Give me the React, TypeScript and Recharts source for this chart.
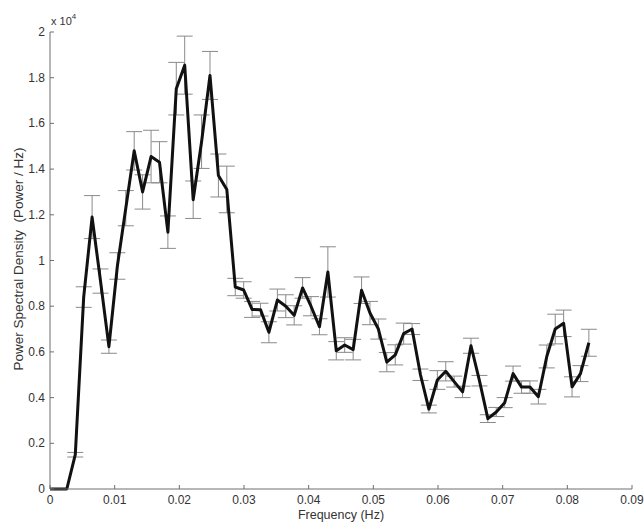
import { LineChart, Line, XAxis, YAxis, ErrorBar } from 'recharts';

const FONT = '"Liberation Sans", Arial, Helvetica, sans-serif';
const AXIS = '#6e6e6e';
const TEXT = '#333';

// FFT bin frequencies (Hz)
const freqs = [
  0, 0.0013, 0.0026, 0.00391, 0.00521, 0.00651, 0.00781, 0.00911, 0.01042, 0.01172,
  0.01302, 0.01432, 0.01563, 0.01693, 0.01823, 0.01953, 0.02083, 0.02214, 0.02344, 0.02474,
  0.02604, 0.02734, 0.02865, 0.02995, 0.03125, 0.03255, 0.03385, 0.03516, 0.03646, 0.03776,
  0.03906, 0.04036, 0.04167, 0.04297, 0.04427, 0.04557, 0.04688, 0.04818, 0.04948, 0.05078,
  0.05208, 0.05339, 0.05469, 0.05599, 0.05729, 0.05859, 0.0599, 0.0612, 0.0625, 0.0638,
  0.0651, 0.06641, 0.06771, 0.06901, 0.07031, 0.07161, 0.07292, 0.07422, 0.07552, 0.07682,
  0.07813, 0.07943, 0.08073, 0.08203, 0.08333,
];

// mean PSD (Power / Hz)
const psd = [
  0, 0, 0, 1500, 8400, 11900, 9100, 6230, 9760, 12290,
  14800, 13000, 14550, 14300, 11240, 17520, 18550, 12660, 15200, 18100,
  13720, 13110, 8840, 8710, 7860, 7850, 6860, 8270, 8000, 7600,
  8800, 8000, 7100, 9500, 6050, 6300, 6100, 8700, 7700, 7000,
  5550, 5870, 6800, 7000, 5000, 3500, 4770, 5150, 4700, 4250,
  6270, 4740, 3080, 3370, 3780, 5050, 4460, 4460, 4040, 5800,
  7000, 7250, 4470, 5050, 6400,
];

// standard error of each estimate
const stdErr = [
  0, 0, 0, 100, 450, 940, 530, 290, 580, 770,
  840, 750, 1150, 900, 710, 1150, 1270, 820, 1170, 1050,
  940, 1020, 380, 360, 350, 280, 460, 480, 500, 420,
  450, 420, 350, 1100, 400, 320, 450, 580, 510, 440,
  420, 440, 460, 240, 250, 170, 410, 420, 240, 250,
  330, 230, 170, 200, 220, 330, 270, 270, 320, 500,
  650, 580, 440, 350, 590,
];

const xTicks = [0, 0.01, 0.02, 0.03, 0.04, 0.05, 0.06, 0.07, 0.08, 0.09];
const yTicks = [0, 2000, 4000, 6000, 8000, 10000, 12000, 14000, 16000, 18000, 20000];

const data = freqs.map((f, i) => ({ f, psd: psd[i], err: stdErr[i] }));

function fmtX(v: number) {
  return v === 0 ? '0' : v.toFixed(2);
}

function fmtY(v: number) {
  return String(Number((v / 1e4).toFixed(1)));
}

function XTick({ x, y, payload }: any) {
  return (
    <g>
      <line x1={x} y1={y} x2={x} y2={y - 4} stroke={AXIS} />
      <text x={x} y={y + 15} textAnchor="middle" fontSize={12} fill={TEXT} fontFamily={FONT}>
        {fmtX(payload.value)}
      </text>
    </g>
  );
}

function YTick({ x, y, payload }: any) {
  return (
    <g>
      <line x1={x} y1={y} x2={x + 4} y2={y} stroke={AXIS} />
      <text x={x - 5} y={y + 4} textAnchor="end" fontSize={12} fill={TEXT} fontFamily={FONT}>
        {fmtY(payload.value)}
      </text>
    </g>
  );
}

function YLabel() {
  return (
    <g fontFamily={FONT} fill={TEXT}>
      <text
        x={23}
        y={259}
        transform="rotate(-90 23 259)"
        textAnchor="middle"
        fontSize={13.5}
        style={{ whiteSpace: 'pre' }}
      >
        Power Spectral Density  (Power / Hz)
      </text>
      <text x={51} y={25} fontSize={11}>
        x 10
        <tspan dy={-6} fontSize={8}>4</tspan>
      </text>
    </g>
  );
}

function XLabel() {
  return (
    <text x={341} y={519} textAnchor="middle" fontSize={12.5} fill={TEXT} fontFamily={FONT}>
      Frequency (Hz)
    </text>
  );
}

export default function App() {
  return (
    <div style={{ position: 'absolute', left: 0, top: 0, background: '#fff' }}>
      <LineChart width={644} height={522} data={data} margin={{ top: 32, right: 12, bottom: 0, left: 0 }}>
        <XAxis
          dataKey="f"
          type="number"
          domain={[0, 0.09]}
          ticks={xTicks}
          height={33}
          tickSize={0}
          tickMargin={0}
          tickLine={false}
          stroke={AXIS}
          tick={<XTick />}
          interval={0}
          label={{ content: () => <XLabel /> }}
        />
        <YAxis
          type="number"
          domain={[0, 20000]}
          ticks={yTicks}
          width={50}
          tickSize={0}
          tickMargin={0}
          tickLine={false}
          stroke={AXIS}
          tick={<YTick />}
          interval={0}
          label={{ content: () => <YLabel /> }}
        />
        <Line
          type="linear"
          dataKey="psd"
          stroke="#111"
          strokeWidth={3}
          dot={false}
          activeDot={false}
          strokeLinejoin="round"
          isAnimationActive={false}
        >
          <ErrorBar dataKey="err" direction="y" width={8} stroke="#8a8a8a" strokeWidth={1} isAnimationActive={false} />
        </Line>
      </LineChart>
    </div>
  );
}
